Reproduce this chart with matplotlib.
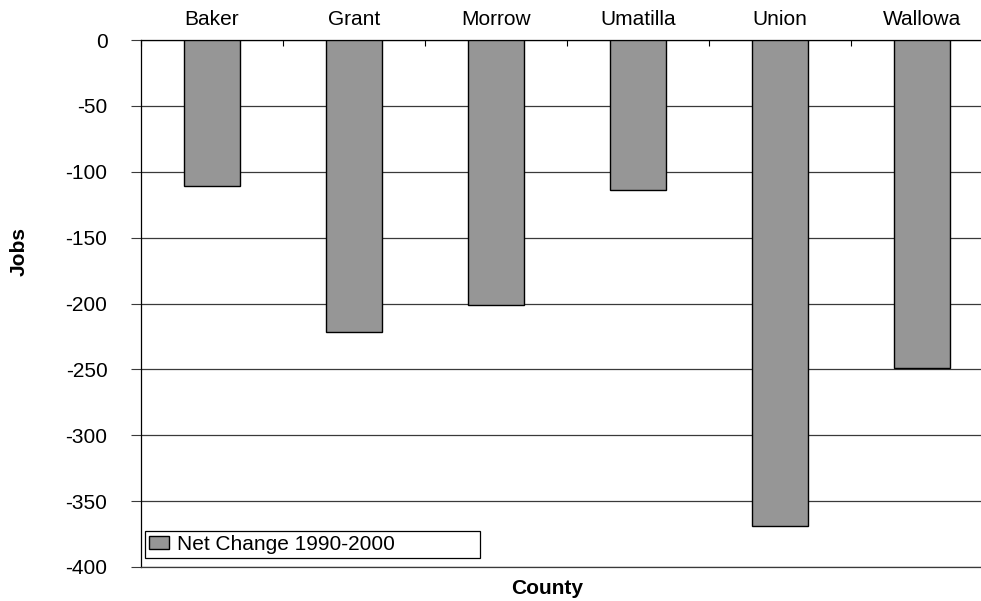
import matplotlib
matplotlib.use("Agg")
import matplotlib.pyplot as plt
import numpy as np

counties = ["Baker", "Grant", "Morrow", "Umatilla", "Union", "Wallowa"]
net_change = [-111, -222, -201, -114, -369, -249]
series_label = "Net Change 1990-2000"
y_ticks = [0, -50, -100, -150, -200, -250, -300, -350, -400]

plt.rcParams["font.family"] = ["Liberation Sans", "DejaVu Sans"]

fig = plt.figure(figsize=(9.81, 6.01), dpi=100)
ax = fig.add_axes([141 / 981, 1 - 567 / 601, 852 / 981, 527 / 601])

x = np.arange(len(counties))
ax.bar(x, net_change, width=0.4, color="#969696", edgecolor="black",
       linewidth=1.0, label=series_label, zorder=3)

grid_color = "#3a3a3a"
ax.set_xlim(-0.5, len(counties) - 0.5)
ax.set_ylim(-400, 0)
ax.set_yticks(y_ticks)
ax.set_yticklabels([str(v) for v in y_ticks], fontsize=15)
ax.yaxis.grid(True, color=grid_color, linewidth=0.9, zorder=0)
ax.tick_params(axis="y", direction="out", length=7.2, width=0.8, pad=17,
               color=grid_color)

# category names along the top axis line, boundary ticks pointing inward
ax.xaxis.tick_top()
ax.set_xticks(x)
ax.set_xticklabels(counties, fontsize=15)
ax.set_xticks(np.arange(-0.5, len(counties)), minor=True)
ax.tick_params(axis="x", which="major", length=0, pad=8)
ax.tick_params(axis="x", which="minor", direction="in", length=4, width=0.8,
               top=True, bottom=False)

ax.spines["right"].set_visible(False)
ax.spines["bottom"].set_color(grid_color)
ax.spines["bottom"].set_linewidth(0.9)
ax.spines["left"].set_linewidth(0.9)
ax.spines["top"].set_linewidth(0.9)

fig.text(19 / 981, 1 - 251 / 601, "Jobs", fontsize=15, fontweight="bold",
         rotation=90, ha="center", va="center")
fig.text(547 / 981, 1 - 588 / 601, "County", fontsize=15, fontweight="bold",
         ha="center", va="center")

leg = ax.legend(loc="lower left", bbox_to_anchor=(4 / 852, 9 / 527, 335 / 852, 31 / 527),
                mode="expand", borderaxespad=0, fancybox=False, framealpha=1,
                edgecolor="black", fontsize=15, handlelength=0.95,
                handleheight=0.6, handletextpad=0.4, borderpad=0.2)
leg.get_frame().set_linewidth(0.9)

fig.savefig("out.png", dpi=100)
